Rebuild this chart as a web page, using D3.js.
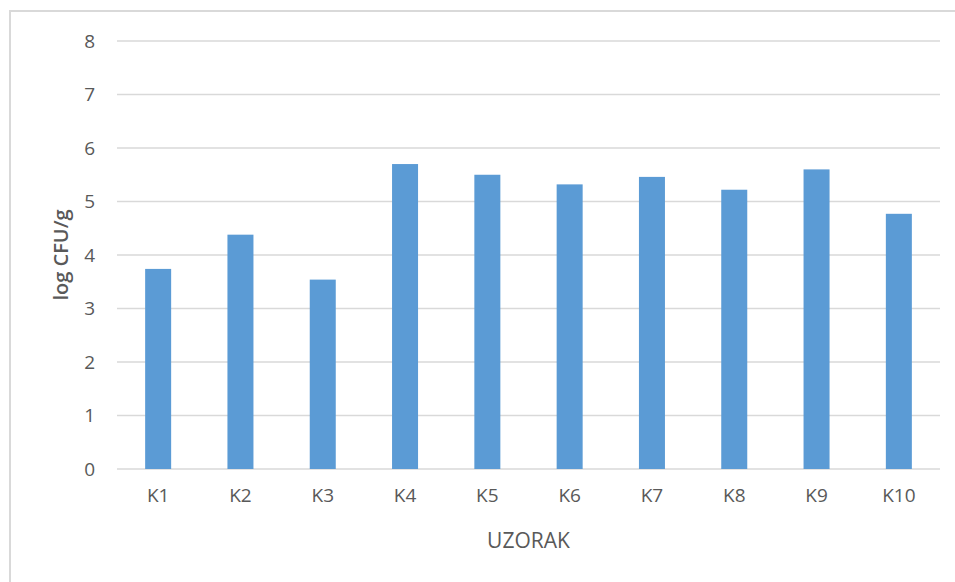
<!DOCTYPE html>
<html>
<head>
<meta charset="utf-8">
<script src="https://cdn.jsdelivr.net/npm/d3@7"></script>
<style>
  body { margin: 0; background: #fff; }
  text { font-family: "Open Sans", sans-serif; fill: #595959; }
</style>
</head>
<body>
<div id="chart"></div>
<script>
var categories = ["K1", "K2", "K3", "K4", "K5", "K6", "K7", "K8", "K9", "K10"];
var values = [3.74, 4.38, 3.54, 5.70, 5.50, 5.32, 5.46, 5.22, 5.60, 4.77];
var yTicks = [0, 1, 2, 3, 4, 5, 6, 7, 8];

var width = 955, height = 582;
var margin = { left: 117, right: 15, top: 41, bottom: 113 };

var svg = d3.select('#chart')
   .append('svg')
   .attr('width', width)
   .attr('height', height);

// chart frame
svg.append('rect')
   .attr('x', 10)
   .attr('y', 11)
   .attr('width', width + 20)
   .attr('height', height + 20)
   .attr('fill', 'none')
   .attr('stroke', '#d9d9d9')
   .attr('stroke-width', 2);

var x = d3.scaleBand()
   .domain(categories)
   .range([margin.left, width - margin.right])
   .paddingInner(0.684)
   .paddingOuter(0.342);

var y = d3.scaleLinear()
   .domain([0, 8])
   .range([height - margin.bottom, margin.top]);

// gridlines
svg.append('g')
   .selectAll('line')
   .data(yTicks)
   .enter()
   .append('line')
   .attr('x1', margin.left)
   .attr('x2', width - margin.right)
   .attr('y1', function(d) { return y(d); })
   .attr('y2', function(d) { return y(d); })
   .attr('stroke', '#d9d9d9')
   .attr('stroke-width', 1.5);

svg.append('g')
   .selectAll('rect')
   .data(values)
   .enter()
   .append('rect')
   .attr('x', function(d, i) { return x(categories[i]); })
   .attr('y', function(d) { return y(d); })
   .attr('width', x.bandwidth())
   .attr('height', function(d) { return y(0) - y(d); })
   .attr('fill', '#5b9bd5');

// y axis labels
var yAxis = svg.append('g')
   .attr('transform', 'translate(' + margin.left + ',0)')
   .call(d3.axisLeft(y).tickValues(yTicks).tickSize(0).tickPadding(22));
yAxis.select('.domain').remove();
yAxis.selectAll('text').style('font-size', '19px').attr('fill', '#595959');

// x axis labels
var xAxis = svg.append('g')
   .attr('transform', 'translate(0,' + y(0) + ')')
   .call(d3.axisBottom(x).tickSize(0).tickPadding(20));
xAxis.select('.domain').remove();
xAxis.selectAll('text').style('font-size', '19px').attr('fill', '#595959');

svg.append('text')
   .attr('x', (margin.left + width - margin.right) / 2)
   .attr('y', 548)
   .attr('text-anchor', 'middle')
   .style('font-size', '21px')
   .text('UZORAK');

svg.append('text')
   .attr('transform', 'translate(68,' + y(4) + ') rotate(-90)')
   .attr('text-anchor', 'middle')
   .style('font-size', '20px')
   .style('font-weight', '600')
   .text('log CFU/g');
</script>
</body>
</html>
